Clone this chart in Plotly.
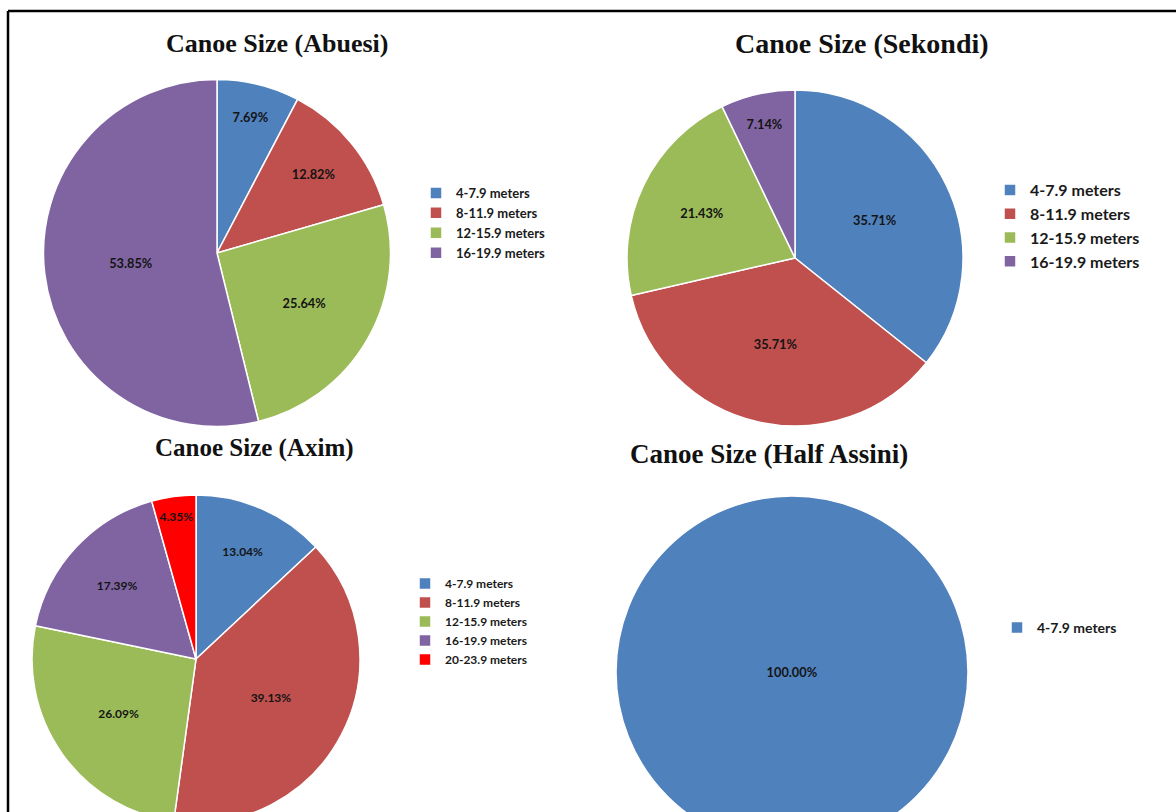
import plotly.graph_objects as go

# canoe size shares (percent)
abuesi_labels = ['4-7.9 meters', '8-11.9 meters', '12-15.9 meters', '16-19.9 meters']
abuesi_values = [7.69, 12.82, 25.64, 53.85]

sekondi_labels = ['4-7.9 meters', '8-11.9 meters', '12-15.9 meters', '16-19.9 meters']
sekondi_values = [35.71, 35.71, 21.43, 7.14]

axim_labels = ['4-7.9 meters', '8-11.9 meters', '12-15.9 meters', '16-19.9 meters', '20-23.9 meters']
axim_values = [13.04, 39.13, 26.09, 17.39, 4.35]

assini_labels = ['4-7.9 meters']
assini_values = [100.00]

COLORS = ['#4F81BD', '#C0504D', '#9BBB59', '#8064A2', '#FF0000']

# the figure is a bit taller than the window, so the bottom pies get cut off like in the scan
W, H = 1176, 860


def px_dom(cx, cy, d):
    # pixel centre/diameter -> paper domain
    return dict(x=[(cx - d / 2) / W, (cx + d / 2) / W],
                y=[max(0, 1 - (cy + d / 2) / H), min(1, 1 - (cy - d / 2) / H)])


def pie(name, labels, values, dom, legend, fsize):
    return go.Pie(
        name=name, labels=labels, values=values, sort=False, direction='clockwise', rotation=0,
        domain=dom, legend=legend, legendgroup=name,
        marker=dict(colors=COLORS[:len(labels)], line=dict(color='white', width=1.5)),
        texttemplate='%{value:.2f}%', textposition='inside',
        insidetextorientation='horizontal',
        textfont=dict(family='Lato', size=fsize, color='#141414', weight='bold'),
        hoverinfo='label+percent'
    )


fig = go.Figure()
fig.add_trace(pie('Abuesi', abuesi_labels, abuesi_values, px_dom(217, 253, 347), 'legend', 13))
fig.add_trace(pie('Sekondi', sekondi_labels, sekondi_values, px_dom(795, 258, 336), 'legend2', 14))
fig.add_trace(pie('Axim', axim_labels, axim_values, px_dom(196, 659, 328), 'legend3', 12))
fig.add_trace(pie('Half Assini', assini_labels, assini_values, px_dom(792, 672, 352), 'legend4', 13))


def leg(x, y, size):
    return dict(x=x / W, y=1 - y / H, xanchor='left', yanchor='top',
                bgcolor='rgba(0,0,0,0)',
                font=dict(family='Lato', size=size, color='#1a1a1a', weight='bold'))


titles = [
    ('Canoe Size (Abuesi)', 277, 44, 26),
    ('Canoe Size (Sekondi)', 862, 44, 28),
    ('Canoe Size (Axim)', 254, 448, 25),
    ('Canoe Size (Half Assini)', 769, 454, 27),
]
annotations = [
    dict(text='<b>%s</b>' % t, x=x / W, y=1 - y / H, xref='paper', yref='paper',
         xanchor='center', yanchor='middle', showarrow=False,
         font=dict(family='Liberation Serif', size=s, color='#111111'))
    for t, x, y, s in titles
]

fig.update_layout(
    width=W, height=H,
    margin=dict(l=0, r=0, t=0, b=0),
    paper_bgcolor='white',
    plot_bgcolor='white',
    legend=leg(416, 178, 13),
    legend2=leg(990, 173, 16),
    legend3=leg(405, 569, 12),
    legend4=leg(997, 612, 14),
    uniformtext=dict(minsize=11, mode='show'),
    annotations=annotations,
    shapes=[
        dict(type='line', xref='paper', yref='paper', x0=8 / W, x1=1, y0=1 - 11 / H, y1=1 - 11 / H,
             line=dict(color='black', width=2.5)),
        dict(type='line', xref='paper', yref='paper', x0=8 / W, x1=8 / W, y0=0, y1=1 - 11 / H,
             line=dict(color='black', width=2.5)),
    ],
)

fig.write_html("out.html", config={'displayModeBar': False},
               post_script="document.body.style.margin='0';document.body.style.overflow='hidden';")
